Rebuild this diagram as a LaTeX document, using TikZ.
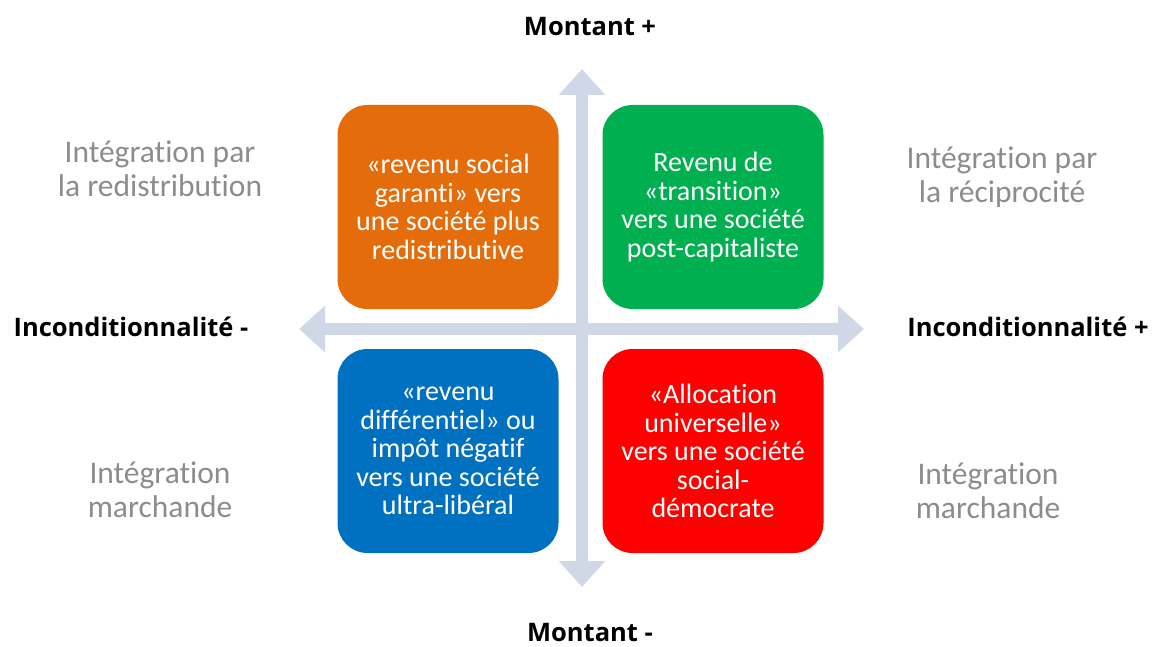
\documentclass[tikz,border=0pt]{standalone}
\usepackage{fontspec}
\setmainfont{Carlito}[Ligatures=NoCommon]
\newfontfamily\axisfont{Open Sans}
\usetikzlibrary{arrows.meta}
\usetikzlibrary{positioning}

\definecolor{axisgray}{RGB}{208,216,232}
\definecolor{sidegray}{RGB}{140,140,140}
\definecolor{boxorange}{RGB}{228,108,10}
\definecolor{boxgreen}{RGB}{0,176,80}
\definecolor{boxblue}{RGB}{0,112,192}
\definecolor{boxred}{RGB}{255,0,0}

\tikzset{
  quadrant/.style={rounded corners=30pt, minimum width=221pt, minimum height=204pt,
    text=white, align=center, font=\fontsize{28}{28.5}\selectfont},
  sidelabel/.style={text=sidegray, align=center, font=\fontsize{31.5}{34}\selectfont},
  axislabel/.style={font=\axisfont\bfseries\fontsize{25.5}{28}\selectfont},
  axisline/.style={axisgray, line width=12pt,
    {Triangle[width=45pt,length=26pt]}-{Triangle[width=45pt,length=26pt]}}
}

\begin{document}
\begin{tikzpicture}[x=1pt, y=-1pt]
  \useasboundingbox (0,0) rectangle (1155,647);

  % the two axes
  \coordinate (top) at (582,69);
  \coordinate (bottom) at (582,587);
  \coordinate (left) at (299,329);
  \coordinate (right) at (864,329);
  \draw[axisline] (bottom) -- (top);
  \draw[axisline] (left) -- (right);

  % the four quadrants
  \node[quadrant, fill=boxorange] (redis) at (448,207)
    {«revenu social\\garanti» vers\\une société plus\\redistributive};
  \node[quadrant, fill=boxgreen] (trans) at (713,207)
    {Revenu de\\«transition»\\vers une société\\post-capitaliste};
  \node[quadrant, fill=boxblue] (diff) at (448,451)
    {«revenu\\différentiel» ou\\impôt négatif\\vers une société\\ultra-libéral};
  \node[quadrant, fill=boxred] (alloc) at (713,451)
    {«Allocation\\universelle»\\vers une société\\social-\\démocrate};

  % axis ends
  \node[axislabel] (up) at (590,27) {Montant +};
  \node[axislabel] (down) at (590,633) {Montant -};
  \node[axislabel] (minus) at (131,327) {Inconditionnalité -};
  \node[axislabel] (plus) at (1028,327) {Inconditionnalité +};

  % kinds of integration
  \node[sidelabel] (tl) at (160,169) {Intégration par\\la redistribution};
  \node[sidelabel] (tr) at (1002,177) {Intégration par\\la réciprocité};
  \node[sidelabel] (bl) at (160,490) {Intégration\\marchande};
  \node[sidelabel] (br) at (988,491) {Intégration\\marchande};
\end{tikzpicture}
\end{document}
